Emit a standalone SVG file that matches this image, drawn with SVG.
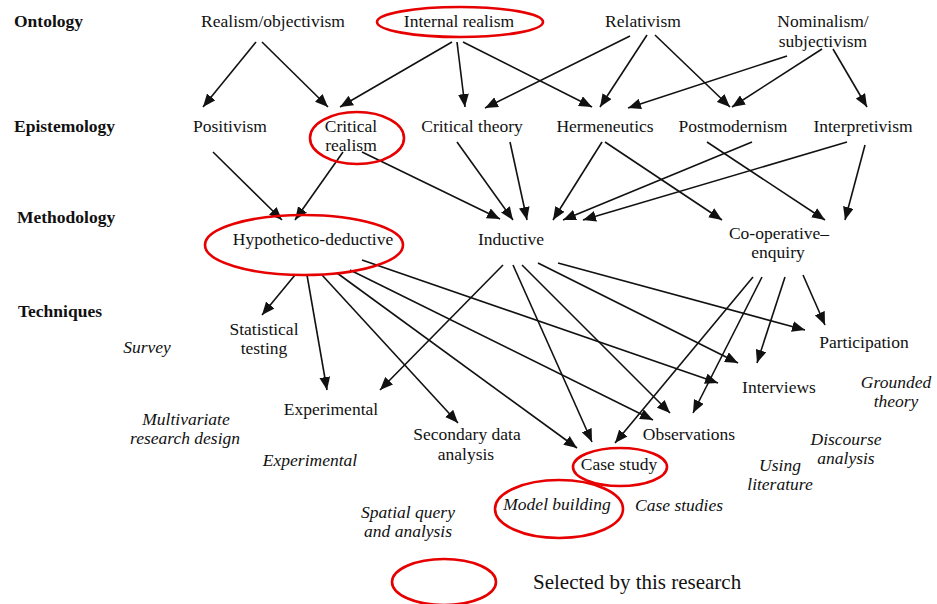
<svg xmlns="http://www.w3.org/2000/svg" width="937" height="604" viewBox="0 0 937 604">
  <style>
    text { font-family: "Liberation Serif", "Times New Roman", serif; font-size: 17.5px; fill: #111; }
    .lvl { font-weight: bold; }
    .n { text-anchor: middle; }
    .it { text-anchor: middle; font-style: italic; }
    .sel { fill: none; stroke: #e60000; stroke-width: 2.6; }
    .edge { fill: none; stroke: #111; stroke-width: 1.6; marker-end: url(#arrow); }
    .legend { font-family: "Liberation Serif", "Times New Roman", serif; font-size: 21px; }
  </style>
  <defs>
    <marker id="arrow" viewBox="0 0 12 10" markerUnits="userSpaceOnUse" markerWidth="13" markerHeight="11" refX="12" refY="5" orient="auto">
      <path d="M0,0 L12,5 L0,10 z" fill="#111"/>
    </marker>
  </defs>
  <rect width="937" height="604" fill="#fff"/>

  <!-- level labels -->
  <g id="levels">
    <text class="lvl" x="14" y="27">Ontology</text>
    <text class="lvl" x="14" y="132">Epistemology</text>
    <text class="lvl" x="17" y="223">Methodology</text>
    <text class="lvl" x="18" y="317">Techniques</text>
  </g>

  <!-- connectors -->
  <g id="connectors">
    <!-- ontology to epistemology -->
    <path class="edge" d="M256,42 L203,107"/>
    <path class="edge" d="M262,42 L328,107"/>
    <path class="edge" d="M452,42 L340,107"/>
    <path class="edge" d="M457,42 L465,107"/>
    <path class="edge" d="M463,42 L592,107"/>
    <path class="edge" d="M630,36 L485,108"/>
    <path class="edge" d="M647,35 L600,107"/>
    <path class="edge" d="M655,35 L730,107"/>
    <path class="edge" d="M787,56 L628,108"/>
    <path class="edge" d="M822,49 L732,107"/>
    <path class="edge" d="M833,49 L867,107"/>
    <!-- epistemology to methodology -->
    <path class="edge" d="M213,152 L282,220"/>
    <path class="edge" d="M343,152 L295,220"/>
    <path class="edge" d="M362,152 L500,219"/>
    <path class="edge" d="M457,142 L513,220"/>
    <path class="edge" d="M510,142 L527,220"/>
    <path class="edge" d="M602,142 L553,220"/>
    <path class="edge" d="M605,142 L722,220"/>
    <path class="edge" d="M752,142 L563,220"/>
    <path class="edge" d="M707,142 L825,220"/>
    <path class="edge" d="M847,142 L583,220"/>
    <path class="edge" d="M865,145 L845,220"/>
    <!-- methodology to techniques -->
    <path class="edge" d="M295,275 L262,315"/>
    <path class="edge" d="M307,275 L327,390"/>
    <path class="edge" d="M322,275 L458,423"/>
    <path class="edge" d="M337,273 L577,448"/>
    <path class="edge" d="M350,270 L653,420"/>
    <path class="edge" d="M362,260 L718,383"/>
    <path class="edge" d="M503,265 L380,390"/>
    <path class="edge" d="M513,265 L592,442"/>
    <path class="edge" d="M522,265 L670,413"/>
    <path class="edge" d="M538,263 L738,363"/>
    <path class="edge" d="M558,263 L805,330"/>
    <path class="edge" d="M753,277 L615,443"/>
    <path class="edge" d="M762,277 L693,413"/>
    <path class="edge" d="M785,277 L757,363"/>
    <path class="edge" d="M803,275 L825,325"/>
  </g>

  <!-- ontology -->
  <g id="realism-objectivism"><text class="n" x="273" y="27">Realism/objectivism</text></g>
  <g id="internal-realism">
    <ellipse class="sel" cx="460" cy="22" rx="83" ry="15"/>
    <text class="n" x="459" y="27">Internal realism</text>
  </g>
  <g id="relativism"><text class="n" x="643" y="27">Relativism</text></g>
  <g id="nominalism"><text class="n" x="823" y="27">Nominalism/<tspan x="823" dy="20">subjectivism</tspan></text></g>

  <!-- epistemology -->
  <g id="positivism"><text class="n" x="230" y="132">Positivism</text></g>
  <g id="critical-realism">
    <ellipse class="sel" cx="357" cy="138" rx="47" ry="26"/>
    <text class="n" x="351" y="132">Critical<tspan x="351" dy="19">realism</tspan></text>
  </g>
  <g id="critical-theory"><text class="n" x="472" y="132">Critical theory</text></g>
  <g id="hermeneutics"><text class="n" x="605" y="132">Hermeneutics</text></g>
  <g id="postmodernism"><text class="n" x="733" y="132">Postmodernism</text></g>
  <g id="interpretivism"><text class="n" x="863" y="132">Interpretivism</text></g>

  <!-- methodology -->
  <g id="hypothetico-deductive">
    <ellipse class="sel" cx="304" cy="245" rx="99" ry="30"/>
    <text class="n" x="313" y="245">Hypothetico-deductive</text>
  </g>
  <g id="inductive"><text class="n" x="511" y="245">Inductive</text></g>
  <g id="co-operative-enquiry"><text class="n" x="779" y="239">Co-operative–<tspan x="778" dy="19">enquiry</tspan></text></g>

  <!-- techniques -->
  <g id="statistical-testing"><text class="n" x="264" y="335">Statistical<tspan x="264" dy="19">testing</tspan></text></g>
  <g id="survey"><text class="it" x="147" y="353">Survey</text></g>
  <g id="experimental"><text class="n" x="331" y="415">Experimental</text></g>
  <g id="multivariate"><text class="it" x="186" y="425">Multivariate<tspan x="185" dy="19">research design</tspan></text></g>
  <g id="experimental-italic"><text class="it" x="310" y="466">Experimental</text></g>
  <g id="secondary-data"><text class="n" x="467" y="440">Secondary data<tspan x="466" dy="20">analysis</tspan></text></g>
  <g id="spatial-query"><text class="it" x="408" y="518">Spatial query<tspan x="408" dy="19">and analysis</tspan></text></g>
  <g id="case-study">
    <ellipse class="sel" cx="620" cy="467" rx="47" ry="19"/>
    <text class="n" x="619" y="470">Case study</text>
  </g>
  <g id="model-building">
    <ellipse class="sel" cx="559" cy="509" rx="64" ry="29"/>
    <text class="it" x="557" y="510">Model building</text>
  </g>
  <g id="case-studies"><text class="it" x="679" y="511">Case studies</text></g>
  <g id="observations"><text class="n" x="689" y="440">Observations</text></g>
  <g id="interviews"><text class="n" x="779" y="393">Interviews</text></g>
  <g id="participation"><text class="n" x="864" y="348">Participation</text></g>
  <g id="grounded-theory"><text class="it" x="896" y="388">Grounded<tspan x="896" dy="19">theory</tspan></text></g>
  <g id="discourse-analysis"><text class="it" x="846" y="445">Discourse<tspan x="846" dy="19">analysis</tspan></text></g>
  <g id="using-literature"><text class="it" x="780" y="471">Using<tspan x="780" dy="19">literature</tspan></text></g>

  <!-- legend -->
  <g id="legend">
    <ellipse class="sel" cx="444" cy="582" rx="52" ry="23"/>
    <text class="legend" x="533" y="589">Selected by this research</text>
  </g>
</svg>
